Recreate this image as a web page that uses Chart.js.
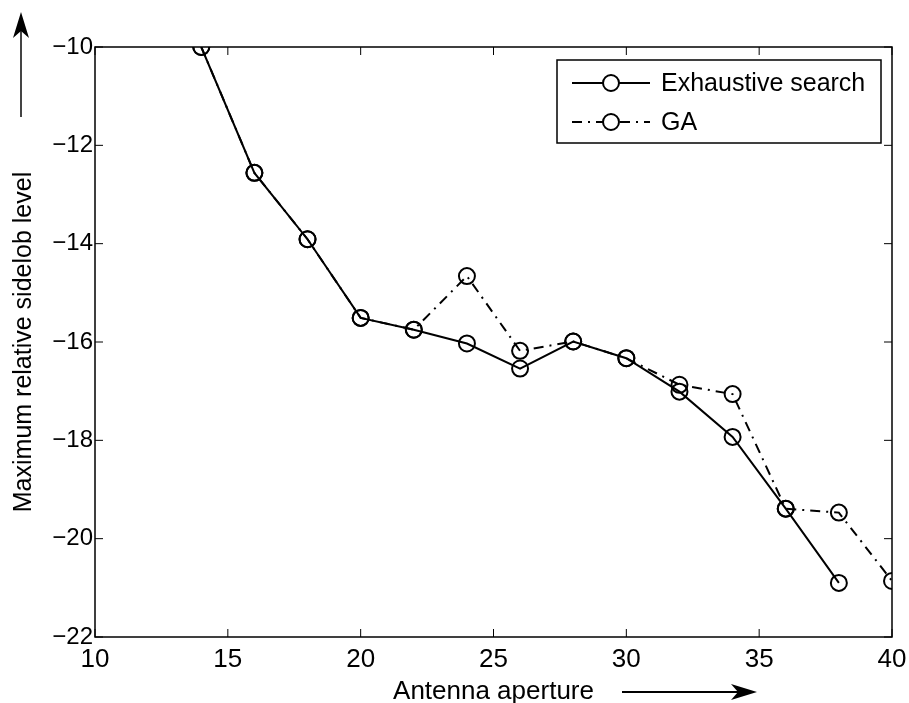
<!DOCTYPE html>
<html>
<head>
<meta charset="utf-8">
<script src="https://cdn.jsdelivr.net/npm/chart.js@4.4.1/dist/chart.umd.min.js"></script>
<style>
  html, body { margin: 0; padding: 0; background: #fff; }
  #wrap { width: 909px; height: 703px; }
</style>
</head>
<body>
<div id="wrap"><canvas id="grafico"></canvas></div>
<script>
// apertures and levels
const aperturas = [14, 16, 18, 20, 22, 24, 26, 28, 30, 32, 34, 36, 38, 40];
const exhaustiva = [-10, -12.56, -13.91, -15.51, -15.75, -16.03, -16.54, -15.99, -16.33, -17.01, -17.93, -19.39, -20.9];
const genetico = [-10, -12.56, -13.91, -15.51, -15.75, -14.66, -16.18, -15.99, -16.33, -16.87, -17.06, -19.39, -19.47, -20.86];
const etiquetas = ['Exhaustive search', 'GA'];
const tituloX = 'Antenna aperture';
const tituloY = 'Maximum relative sidelob level';

const fuente = "'Liberation Sans', Arial, sans-serif";
const guion = [10, 6, 2, 6];

const toPoints = vals => vals.map((v, i) => ({ x: aperturas[i], y: v }));

// MATLAB style: box, inward ticks, legend box, arrows next to titles
const decoracion = {
  id: 'decoracion',
  afterDraw(chart) {
    const { ctx, chartArea: a, scales } = chart;
    ctx.save();
    ctx.strokeStyle = '#000';
    ctx.lineWidth = 1.5;
    ctx.strokeRect(a.left, a.top, a.right - a.left, a.bottom - a.top);

    ctx.lineWidth = 1;
    ctx.beginPath();
    scales.x.ticks.forEach(t => {
      const px = scales.x.getPixelForValue(t.value);
      ctx.moveTo(px, a.bottom); ctx.lineTo(px, a.bottom - 8);
      ctx.moveTo(px, a.top); ctx.lineTo(px, a.top + 8);
    });
    scales.y.ticks.forEach(t => {
      const py = scales.y.getPixelForValue(t.value);
      ctx.moveTo(a.left, py); ctx.lineTo(a.left + 8, py);
      ctx.moveTo(a.right, py); ctx.lineTo(a.right - 8, py);
    });
    ctx.stroke();

    // legend
    const bx = a.right - 335, by = a.top + 13, bw = 324, bh = 83;
    ctx.fillStyle = '#fff';
    ctx.fillRect(bx, by, bw, bh);
    ctx.lineWidth = 1.5;
    ctx.strokeRect(bx, by, bw, bh);
    const filas = [{ y: by + 23, dash: [] }, { y: by + 62, dash: guion }];
    filas.forEach((f, i) => {
      ctx.lineWidth = 2;
      ctx.setLineDash(f.dash);
      ctx.beginPath();
      ctx.moveTo(bx + 15, f.y); ctx.lineTo(bx + 93, f.y);
      ctx.stroke();
      ctx.setLineDash([]);
      ctx.fillStyle = '#fff';
      ctx.beginPath();
      ctx.arc(bx + 54, f.y, 8, 0, Math.PI * 2);
      ctx.fill(); ctx.stroke();
      ctx.fillStyle = '#000';
      ctx.font = '25px ' + fuente;
      ctx.textBaseline = 'middle';
      ctx.fillText(etiquetas[i], bx + 104, f.y + 1);
    });

    // arrows
    ctx.lineWidth = 2;
    ctx.strokeStyle = '#444';
    ctx.beginPath();
    ctx.moveTo(21, 117); ctx.lineTo(21, 22);
    ctx.stroke();
    ctx.strokeStyle = '#000';
    ctx.beginPath();
    ctx.moveTo(622, 692); ctx.lineTo(745, 692);
    ctx.stroke();
    ctx.fillStyle = '#000';
    ctx.beginPath();
    ctx.moveTo(21, 12); ctx.lineTo(13, 38); ctx.lineTo(21, 31); ctx.lineTo(29, 38); ctx.closePath();
    ctx.fill();
    ctx.beginPath();
    ctx.moveTo(757, 692); ctx.lineTo(731, 684); ctx.lineTo(738, 692); ctx.lineTo(731, 700); ctx.closePath();
    ctx.fill();
    ctx.restore();
  }
};

const ctx = document.getElementById('grafico').getContext('2d');
new Chart(ctx, {
  type: 'line',
  data: {
    datasets: [{
      label: etiquetas[1],
      data: toPoints(genetico),
      borderColor: '#000',
      borderWidth: 2,
      borderDash: guion,
      pointRadius: 8,
      pointBorderWidth: 2,
      pointBorderColor: '#000',
      pointBackgroundColor: 'rgba(0,0,0,0)',
      tension: 0
    }, {
      label: etiquetas[0],
      data: toPoints(exhaustiva),
      borderColor: '#000',
      borderWidth: 2,
      pointRadius: 8,
      pointBorderWidth: 2,
      pointBorderColor: '#000',
      pointBackgroundColor: 'rgba(0,0,0,0)',
      tension: 0
    }]
  },
  options: {
    responsive: true,
    maintainAspectRatio: false,
    animation: false,
    layout: { padding: { top: 47, right: 17, left: 0, bottom: 0 } },
    plugins: { legend: { display: false }, tooltip: { enabled: false } },
    scales: {
      x: {
        type: 'linear',
        min: 10,
        max: 40,
        grid: { display: false, drawTicks: false },
        border: { display: false },
        ticks: {
          stepSize: 5,
          padding: 7,
          color: '#000',
          font: { family: fuente, size: 26 }
        },
        title: {
          display: true,
          text: tituloX,
          color: '#000',
          font: { family: fuente, size: 26 },
          padding: { top: 0, bottom: -4 }
        },
        afterFit(scale) {
          scale.height = 66;
          scale.paddingLeft = 0;
          scale.paddingRight = 0;
        }
      },
      y: {
        min: -22,
        max: -10,
        grid: { display: false, drawTicks: false },
        border: { display: false },
        ticks: {
          stepSize: 2,
          padding: 2,
          color: '#000',
          font: { family: fuente, size: 24 },
          callback: v => String(v).replace('-', '\u2212')
        },
        title: {
          display: true,
          text: tituloY,
          color: '#000',
          font: { family: fuente, size: 25 },
          padding: { top: 9, bottom: 0 }
        },
        afterFit(scale) {
          scale.width = 95;
          scale.paddingTop = 0;
          scale.paddingBottom = 0;
        }
      }
    }
  },
  plugins: [decoracion]
});
</script>
</body>
</html>
